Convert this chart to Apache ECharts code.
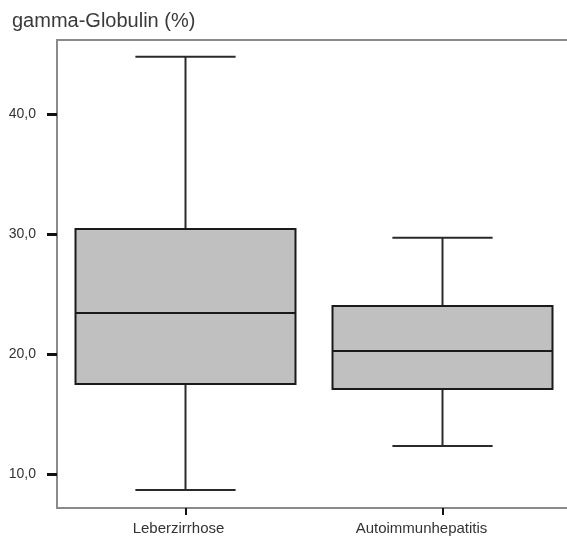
<!DOCTYPE html>
<html>
<head>
<meta charset="utf-8">
<script src="https://cdn.jsdelivr.net/npm/echarts@6/dist/echarts.min.js"></script>
<style>html,body{margin:0;padding:0;background:#fff}#c{width:567px;height:539px}</style>
</head>
<body>
<div id="c"></div>
<script>
var categories = ['Leberzirrhose', 'Autoimmunhepatitis'];
var whiskerLow = [8.67, 12.33];
var q1Values = [17.5, 17.08];
var medianValues = [23.42, 20.25];
var q3Values = [30.42, 24.0];
var whiskerHigh = [44.78, 29.69];
var yTicks = [10, 20, 30, 40];

var data = categories.map(function (c, i) {
  return [i, whiskerLow[i], q1Values[i], medianValues[i], q3Values[i], whiskerHigh[i]];
});

var chart = echarts.init(document.getElementById('c'), null, {renderer: 'canvas'});
chart.setOption({
  backgroundColor: '#ffffff',
  animation: false,
  title: {
    text: 'gamma-Globulin (%)',
    left: 7, top: 6,
    textStyle: {fontFamily: 'Liberation Sans, Arial, sans-serif', fontSize: 20, fontWeight: 'normal', color: '#3a3a3a'}
  },
  grid: {left: 57, top: 40, bottom: 31, width: 514, show: true, borderColor: '#8a8a8a', borderWidth: 2,
    containLabel: false, outerBoundsMode: 'none'},
  xAxis: {
    type: 'category',
    data: categories,
    axisLine: {show: true, lineStyle: {color: '#8a8a8a', width: 2}},
    axisTick: {show: true, alignWithLabel: true, length: 7, lineStyle: {color: '#111', width: 2}},
    splitLine: {show: false},
    axisLabel: {
      margin: 13,
      fontFamily: 'Liberation Sans, Arial, sans-serif',
      fontSize: 15,
      color: '#333333',
      formatter: function (v, i) { return i === 0 ? '{a|' + v + '}' : '{b|' + v + '}'; },
      rich: {
        a: {fontFamily: 'Liberation Sans, Arial, sans-serif', fontSize: 15, color: '#333333', padding: [0, 14, 0, 0]},
        b: {fontFamily: 'Liberation Sans, Arial, sans-serif', fontSize: 15, color: '#333333', padding: [0, 42, 0, 0]}
      }
    }
  },
  yAxis: {
    type: 'value',
    min: 7.17,
    max: 46.17,
    axisLine: {show: true, lineStyle: {color: '#8a8a8a', width: 2}},
    axisTick: {show: true, length: 10, customValues: yTicks, lineStyle: {color: '#111', width: 3}},
    splitLine: {show: false},
    axisLabel: {
      margin: 21,
      customValues: yTicks,
      fontFamily: 'Liberation Sans, Arial, sans-serif',
      fontSize: 14,
      color: '#333333',
      formatter: function (v) { return v.toFixed(1).replace('.', ','); }
    }
  },
  series: [{
    type: 'custom',
    data: data,
    encode: {x: 0, y: [1, 2, 3, 4, 5]},
    renderItem: function (params, api) {
      var x = api.value(0);
      var lo = api.coord([x, api.value(1)]);
      var q1 = api.coord([x, api.value(2)]);
      var med = api.coord([x, api.value(3)]);
      var q3 = api.coord([x, api.value(4)]);
      var hi = api.coord([x, api.value(5)]);
      var band = api.size([1, 0])[0];
      var bw = band * 0.856, cw = band * 0.39;
      var cx = lo[0];
      var wStyle = {stroke: '#2a2a2a', lineWidth: 2};
      return {
        type: 'group',
        children: [
          {type: 'line', shape: {x1: cx, y1: hi[1], x2: cx, y2: q3[1]}, style: wStyle},
          {type: 'line', shape: {x1: cx, y1: q1[1], x2: cx, y2: lo[1]}, style: wStyle},
          {type: 'line', shape: {x1: cx - cw / 2, y1: hi[1], x2: cx + cw / 2, y2: hi[1]}, style: wStyle},
          {type: 'line', shape: {x1: cx - cw / 2, y1: lo[1], x2: cx + cw / 2, y2: lo[1]}, style: wStyle},
          {type: 'rect', shape: {x: cx - bw / 2, y: q3[1], width: bw, height: q1[1] - q3[1]},
            style: {fill: '#c0c0c0', stroke: '#1a1a1a', lineWidth: 2}},
          {type: 'line', shape: {x1: cx - bw / 2, y1: med[1], x2: cx + bw / 2, y2: med[1]},
            style: {stroke: '#1a1a1a', lineWidth: 2}}
        ]
      };
    }
  }]
});
</script>
</body>
</html>
